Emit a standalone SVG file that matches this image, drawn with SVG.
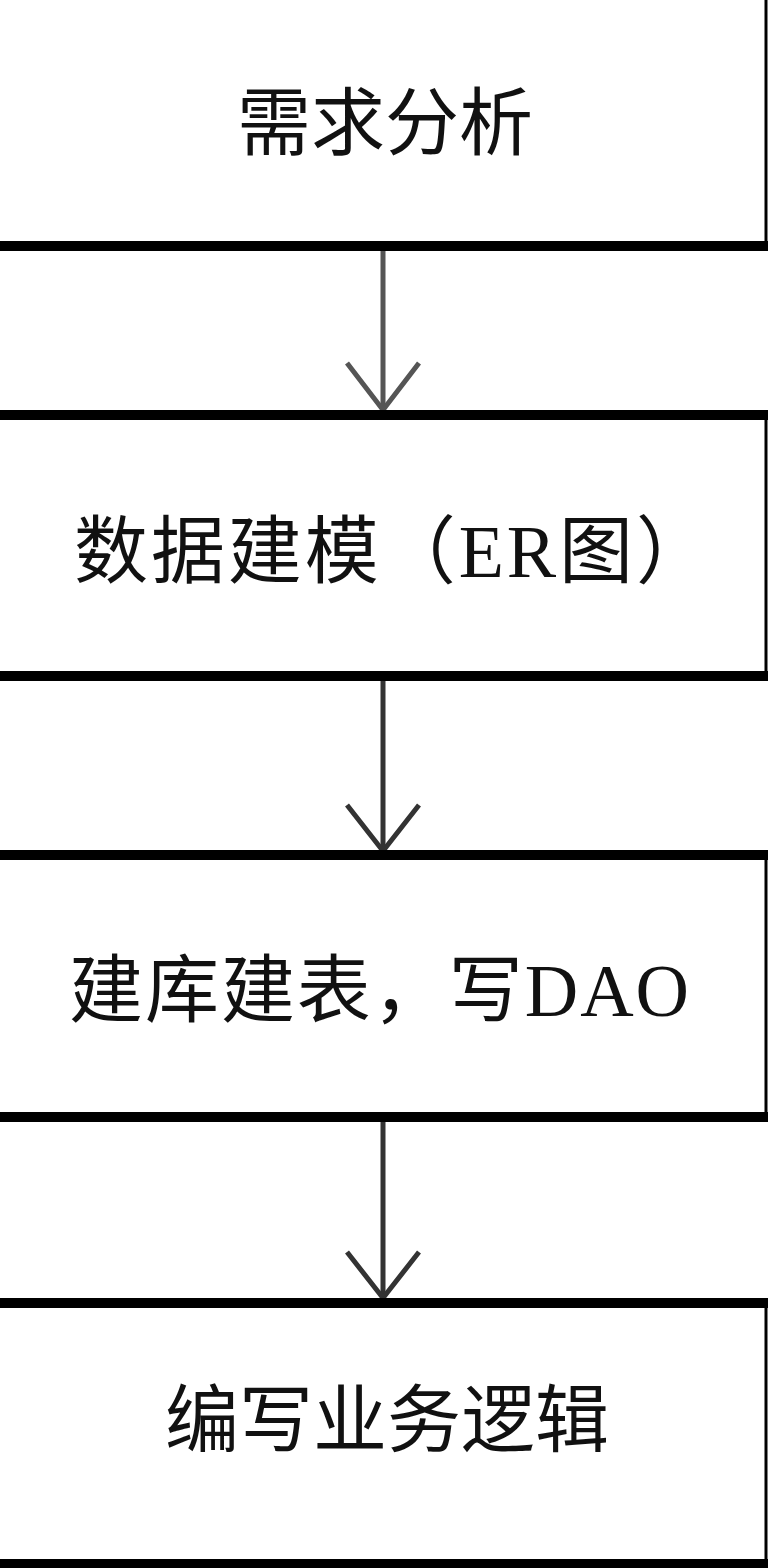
<svg xmlns="http://www.w3.org/2000/svg" width="770" height="1568" viewBox="0 0 770 1568">
  <style>
    .edge-h { stroke: #000; stroke-width: 10; }
    .edge-v { stroke: #000; stroke-width: 3; }
    .label { font-family: "Liberation Serif", "Noto Sans CJK SC", serif; font-size: 74px; fill: #111; text-anchor: middle; dominant-baseline: central; }
    .flow { fill: none; stroke-width: 5; }
  </style>
  <rect width="770" height="1568" fill="#fff"/>

  <!-- connectors: vertical stems with open V heads -->
  <g id="connectors">
    <path class="flow" d="M383,251 V410" stroke="#555"/>
    <path class="flow" d="M347,363 L383,410 L419,363" stroke="#555"/>
    <path class="flow" d="M383,681 V851" stroke="#333"/>
    <path class="flow" d="M347,805 L383,851 L419,805" stroke="#333"/>
    <path class="flow" d="M383,1122 V1298" stroke="#333"/>
    <path class="flow" d="M347,1252 L383,1298 L419,1252" stroke="#333"/>
  </g>

  <!-- step 1 -->
  <g id="node-requirements">
    <line class="edge-v" x1="766" y1="-10" x2="766" y2="246"/>
    <line class="edge-h" x1="-10" y1="246" x2="768" y2="246"/>
    <text class="label" x="385" y="124">需求分析</text>
  </g>

  <!-- step 2 -->
  <g id="node-modeling">
    <line class="edge-v" x1="766" y1="415" x2="766" y2="676"/>
    <line class="edge-h" x1="-10" y1="415" x2="768" y2="415"/>
    <line class="edge-h" x1="-10" y1="676" x2="768" y2="676"/>
    <text class="label" x="392" y="552" textLength="636" lengthAdjust="spacing">数据建模（ER图）</text>
  </g>

  <!-- step 3 -->
  <g id="node-schema">
    <line class="edge-v" x1="766" y1="855" x2="766" y2="1117"/>
    <line class="edge-h" x1="-10" y1="855" x2="768" y2="855"/>
    <line class="edge-h" x1="-10" y1="1117" x2="768" y2="1117"/>
    <text class="label" x="379" y="991" textLength="620" lengthAdjust="spacing">建库建表，写DAO</text>
  </g>

  <!-- step 4 -->
  <g id="node-logic">
    <line class="edge-v" x1="766" y1="1303" x2="766" y2="1564"/>
    <line class="edge-h" x1="-10" y1="1303" x2="768" y2="1303"/>
    <line class="edge-h" x1="-10" y1="1564" x2="768" y2="1564"/>
    <text class="label" x="387" y="1421">编写业务逻辑</text>
  </g>
</svg>
